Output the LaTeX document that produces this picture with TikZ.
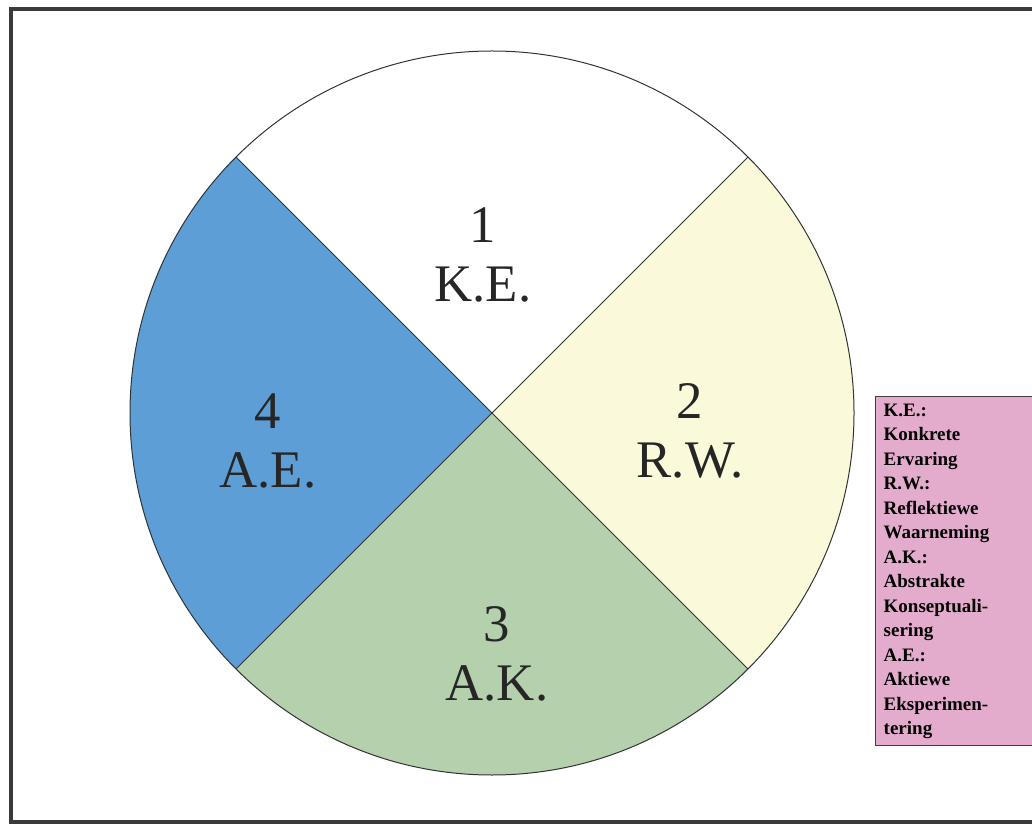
\documentclass[tikz,border=0pt]{standalone}
\usepackage{fontspec}
\setmainfont{Liberation Serif}
\usetikzlibrary{positioning}
\definecolor{FrameGrey}{RGB}{58, 58, 58}
\definecolor{SectorYellow}{RGB}{250, 250, 219}
\definecolor{SectorGreen}{RGB}{180, 208, 172}
\definecolor{SectorBlue}{RGB}{92, 158, 213}
\definecolor{LegendPink}{RGB}{228, 172, 204}

\begin{document}
\begin{tikzpicture}[
        x=0.5pt, y=0.5pt,
        frame/.style={draw=FrameGrey, line width=2pt},
        rim/.style={draw=black!80, line width=0.5pt},
        biglabel/.style={align=center, inner sep=0pt, text=black!85, font=\fontsize{26.4}{29.5}\selectfont},
        legendbox/.style={rectangle, draw=black!75, line width=0.7pt, fill=LegendPink, anchor=north west, align=left, text width=75pt, inner xsep=4pt, minimum height=174.5pt, font=\bfseries\fontsize{9.5}{12.25}\selectfont}
    ]
        \useasboundingbox (0,0) rectangle (1032,825);
        \clip (0,0) rectangle (1032,825);
        \fill[white] (0,0) rectangle (1032,825);
        \draw[frame] (11,816) rectangle (1050,3);

        \coordinate (c) at (492,412);
        \coordinate (ne) at ([shift={(45:362)}]c);
        \coordinate (nw) at ([shift={(135:362)}]c);
        \coordinate (sw) at ([shift={(225:362)}]c);
        \coordinate (se) at ([shift={(-45:362)}]c);

        \fill[SectorYellow] (c) -- (se) arc[start angle=-45, end angle=45, radius=362] -- cycle;
        \fill[SectorBlue] (c) -- (nw) arc[start angle=135, end angle=225, radius=362] -- cycle;
        \fill[SectorGreen] (c) -- (sw) arc[start angle=225, end angle=315, radius=362] -- cycle;
        \draw[rim] (c) circle[radius=362];
        \draw[rim] (nw) -- (se);
        \draw[rim] (ne) -- (sw);

        \node[biglabel] (ke) at (483,570) {1\\K.E.};
        \node[biglabel] (rw) at (690,394) {2\\R.W.};
        \node[biglabel] (ak) at (497,171) {3\\A.K.};
        \node[biglabel] (ae) at (268,384) {4\\A.E.};

        \node[legendbox] (legend) at (875,429) {K.E.:\\Konkrete\\Ervaring\\R.W.:\\Reflektiewe\\Waarneming\\A.K.:\\Abstrakte\\Konseptuali-\\sering\\A.E.:\\Aktiewe\\Eksperimen-\\tering};
    \end{tikzpicture}
\end{document}
